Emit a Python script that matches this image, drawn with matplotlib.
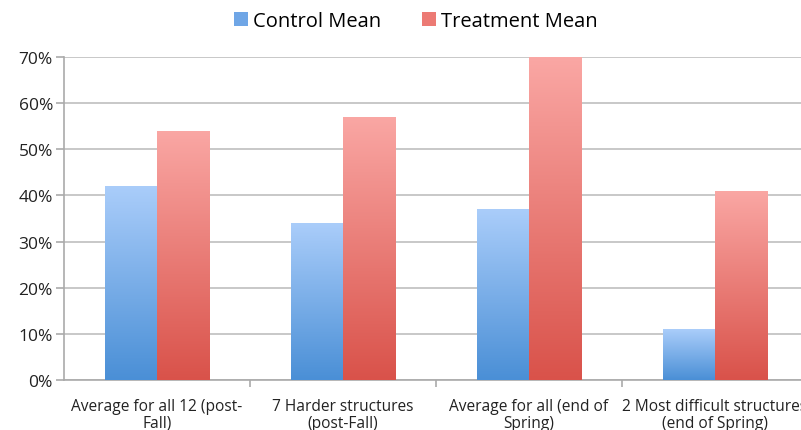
import numpy as np
import matplotlib
matplotlib.use("Agg")
import matplotlib.pyplot as plt
from matplotlib.colors import LinearSegmentedColormap
from matplotlib.patches import Patch

plt.rcParams['font.family'] = ['Open Sans', 'DejaVu Sans']

categories = [
    "Average for all 12 (post-\nFall)",
    "7 Harder structures\n(post-Fall)",
    "Average for all (end of\nSpring)",
    "2 Most difficult structures\n(end of Spring)",
]
control_mean = [0.42, 0.34, 0.37, 0.11]
treatment_mean = [0.54, 0.57, 0.70, 0.41]
series_names = ["Control Mean", "Treatment Mean"]
y_ticks = [0.0, 0.1, 0.2, 0.3, 0.4, 0.5, 0.6, 0.7]

blue_cmap = LinearSegmentedColormap.from_list("blue", ["#4a8fd6", "#aacdfa"])
red_cmap = LinearSegmentedColormap.from_list("red", ["#d9524a", "#faa7a4"])

fig = plt.figure(figsize=(8.01, 4.31), dpi=100)
ax = fig.add_axes([64 / 801, 50 / 431, 744 / 801, 323 / 431])

x = np.arange(len(categories))
w = 0.282
bars_c = ax.bar(x - w / 2, control_mean, w, color="none", linewidth=0, zorder=3)
bars_t = ax.bar(x + w / 2, treatment_mean, w, color="none", linewidth=0, zorder=3)

# gradient fill, light at the top of every bar
grad = np.linspace(0, 1, 256).reshape(-1, 1)
for bars, cmap in [(bars_c, blue_cmap), (bars_t, red_cmap)]:
    for b in bars:
        x0, y0 = b.get_x(), b.get_y()
        x1, y1 = x0 + b.get_width(), y0 + b.get_height()
        im = ax.imshow(grad, cmap=cmap, origin="lower", aspect="auto",
                       extent=[x0, x1, y0, y1], zorder=3, interpolation="bilinear")
        im.set_clip_path(b)

ax.set_xlim(-0.5, 3.5)
ax.set_ylim(0, 0.7)
ax.set_yticks(y_ticks)
ax.set_yticklabels([f"{int(round(t * 100))}%" for t in y_ticks], fontsize=12.5, color="#222222")
ax.yaxis.grid(True, color="#c4c4c4", linewidth=1.3, zorder=0)
ax.set_axisbelow(True)

ax.set_xticks(x)
ax.set_xticklabels(categories, fontsize=11.2, color="#222222", linespacing=1.05)
ax.set_xticks(x[:-1] + 0.5, minor=True)
ax.tick_params(axis="x", which="major", length=0, pad=13)
ax.tick_params(axis="x", which="minor", length=5, color="#aaaaaa", width=1.2)
ax.tick_params(axis="y", length=6, color="#aaaaaa", width=1.2, pad=2)

for s in ["top", "right"]:
    ax.spines[s].set_visible(False)
for s in ["left", "bottom"]:
    ax.spines[s].set_color("#aaaaaa")
    ax.spines[s].set_linewidth(1.2)

handles = [Patch(facecolor="#6fa6e6", edgecolor="none"),
           Patch(facecolor="#ec7a74", edgecolor="none")]
fig.legend(handles, series_names, loc="center", bbox_to_anchor=(0.519, 0.949),
           ncol=2, frameon=False, fontsize=14.5, handlelength=0.7, handleheight=0.7,
           handletextpad=0.25, columnspacing=2.0)

fig.savefig("out.png", dpi=100)
